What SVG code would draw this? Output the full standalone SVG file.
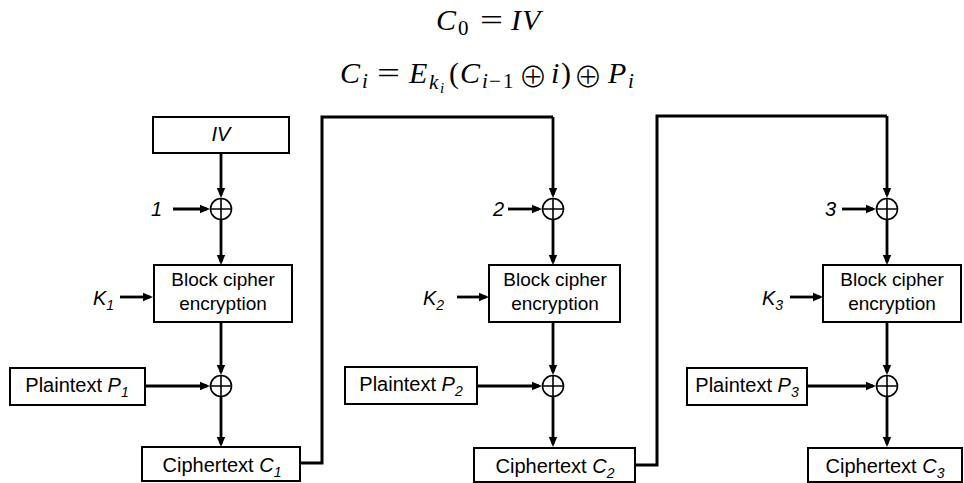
<svg xmlns="http://www.w3.org/2000/svg" width="964" height="483" viewBox="0 0 964 483">
<style>
.box{fill:#fff;stroke:#000;stroke-width:2}
.lbl{font-family:"Liberation Sans",Arial,sans-serif;font-size:20px;fill:#000}
.bc{font-size:19px}
.it{font-style:italic}
.sub{font-size:14px;font-style:italic}
.ar{fill:none;stroke:#000;stroke-width:2.8;marker-end:url(#ah)}
.ln{fill:none;stroke:#000;stroke-width:3;stroke-linejoin:miter}
.x{fill:#fff;stroke:#000;stroke-width:1.6}
.m{font-family:"Liberation Serif","Times New Roman",serif;font-size:30px;fill:#000}
.mi{font-style:italic}
.op{font-family:"Noto Sans CJK JP","DejaVu Sans",sans-serif;font-size:29px;font-weight:300;fill:#000}
</style>
<defs>
<marker id="ah" viewBox="0 0 10 10" refX="7" refY="5" markerWidth="10" markerHeight="10" markerUnits="userSpaceOnUse" orient="auto">
<path d="M0,0.8 L10,5 L0,9.2 z" fill="#000"/>
</marker>
<symbol id="xor" overflow="visible"><circle cx="0" cy="0" r="10.5" class="x"/><path d="M-10.5,0 H10.5 M0,-10.5 V10.5" stroke="#000" stroke-width="1.6"/></symbol>
</defs>

<g id="formula">
<text class="m" y="30"><tspan x="436" class="mi">C</tspan><tspan x="458" y="35" font-size="21">0</tspan></text>
<text class="m" x="480" y="30" textLength="23" lengthAdjust="spacingAndGlyphs">=</text>
<text class="m" y="30"><tspan x="511" class="mi">I</tspan><tspan x="522" class="mi">V</tspan></text>

<text class="m" y="83"><tspan x="340" class="mi">C</tspan><tspan x="362" y="88" font-size="21" class="mi">i</tspan></text>
<text class="m" x="377" y="83" textLength="23" lengthAdjust="spacingAndGlyphs">=</text>
<text class="m" y="83"><tspan x="409" class="mi">E</tspan><tspan x="429" y="89" font-size="21" class="mi">k</tspan><tspan x="440" y="93" font-size="15" class="mi">i</tspan><tspan x="449" y="83">(</tspan><tspan x="460" class="mi">C</tspan><tspan x="482" y="88" font-size="21" class="mi">i</tspan><tspan x="489" y="88" font-size="21">−</tspan><tspan x="503" y="88" font-size="21">1</tspan></text>
<text class="op" x="533" y="88" text-anchor="middle">⊕</text>
<text class="m" y="83"><tspan x="551" class="mi">i</tspan><tspan x="561">)</tspan></text>
<text class="op" x="588" y="88" text-anchor="middle">⊕</text>
<text class="m" y="83"><tspan x="608" class="mi">P</tspan><tspan x="628" y="88" font-size="21" class="mi">i</tspan></text>
</g>

<g id="connectors">
<!-- column 1 -->
<path class="ar" d="M221,154 V195"/>
<path class="ar" d="M173,209 H207"/>
<path class="ar" d="M221,220 V262"/>
<path class="ar" d="M120,297 H150"/>
<path class="ar" d="M221,323 V372"/>
<path class="ar" d="M146,386 H207"/>
<path class="ar" d="M221,397 V444"/>
<!-- loop 1 -->
<path class="ln" d="M300,463 H322 V117 H553"/>
<path class="ar" d="M553,117 V195"/>
<!-- column 2 -->
<path class="ar" d="M508,209 H539"/>
<path class="ar" d="M553,220 V262"/>
<path class="ar" d="M457,297 H486"/>
<path class="ar" d="M553,323 V372"/>
<path class="ar" d="M478,386 H539"/>
<path class="ar" d="M553,397 V444"/>
<!-- loop 2 -->
<path class="ln" d="M635,465 H657 V116 H887"/>
<path class="ar" d="M887,116 V195"/>
<!-- column 3 -->
<path class="ar" d="M842,209 H873"/>
<path class="ar" d="M887,220 V262"/>
<path class="ar" d="M790,297 H820"/>
<path class="ar" d="M887,323 V372"/>
<path class="ar" d="M808,386 H873"/>
<path class="ar" d="M887,397 V444"/>
</g>

<g id="iv"><rect class="box" x="153" y="117" width="136" height="36"/><text class="lbl it" x="221" y="141" text-anchor="middle">IV</text></g>

<g id="in1"><text class="lbl it" x="151" y="216">1</text></g>
<g id="xor1a"><use href="#xor" x="221" y="209"/></g>
<g id="block1"><rect class="box" x="154" y="265" width="138" height="57"/><text class="lbl bc" x="223" y="286" text-anchor="middle">Block cipher</text><text class="lbl bc" x="223" y="310" text-anchor="middle">encryption</text></g>
<g id="k1"><text class="lbl it" x="93" y="305">K<tspan class="sub" dy="5">1</tspan></text></g>
<g id="xor1b"><use href="#xor" x="221" y="386"/></g>
<g id="p1"><rect class="box" x="10" y="368" width="135" height="37"/><text class="lbl" x="77" y="392" text-anchor="middle">Plaintext <tspan class="it">P</tspan><tspan class="sub" dy="5">1</tspan></text></g>
<g id="c1"><rect class="box" x="142" y="447" width="158" height="34"/><text class="lbl" x="222" y="472" text-anchor="middle">Ciphertext <tspan class="it">C</tspan><tspan class="sub" dy="5">1</tspan></text></g>

<g id="in2"><text class="lbl it" x="493" y="216">2</text></g>
<g id="xor2a"><use href="#xor" x="553" y="209"/></g>
<g id="block2"><rect class="box" x="489" y="265" width="131" height="57"/><text class="lbl bc" x="555" y="286" text-anchor="middle">Block cipher</text><text class="lbl bc" x="555" y="310" text-anchor="middle">encryption</text></g>
<g id="k2"><text class="lbl it" x="423" y="305">K<tspan class="sub" dy="5">2</tspan></text></g>
<g id="xor2b"><use href="#xor" x="553" y="386"/></g>
<g id="p2"><rect class="box" x="345" y="367" width="132" height="37"/><text class="lbl" x="411" y="391" text-anchor="middle">Plaintext <tspan class="it">P</tspan><tspan class="sub" dy="5">2</tspan></text></g>
<g id="c2"><rect class="box" x="474" y="448" width="161" height="34"/><text class="lbl" x="555" y="473" text-anchor="middle">Ciphertext <tspan class="it">C</tspan><tspan class="sub" dy="5">2</tspan></text></g>

<g id="in3"><text class="lbl it" x="825" y="216">3</text></g>
<g id="xor3a"><use href="#xor" x="887" y="209"/></g>
<g id="block3"><rect class="box" x="823" y="265" width="138" height="57"/><text class="lbl bc" x="892" y="286" text-anchor="middle">Block cipher</text><text class="lbl bc" x="892" y="310" text-anchor="middle">encryption</text></g>
<g id="k3"><text class="lbl it" x="762" y="305">K<tspan class="sub" dy="5">3</tspan></text></g>
<g id="xor3b"><use href="#xor" x="887" y="386"/></g>
<g id="p3"><rect class="box" x="687" y="368" width="120" height="37"/><text class="lbl" x="747" y="392" text-anchor="middle">Plaintext <tspan class="it">P</tspan><tspan class="sub" dy="5">3</tspan></text></g>
<g id="c3"><rect class="box" x="808" y="448" width="154" height="34"/><text class="lbl" x="885" y="473" text-anchor="middle">Ciphertext <tspan class="it">C</tspan><tspan class="sub" dy="5">3</tspan></text></g>
</svg>
